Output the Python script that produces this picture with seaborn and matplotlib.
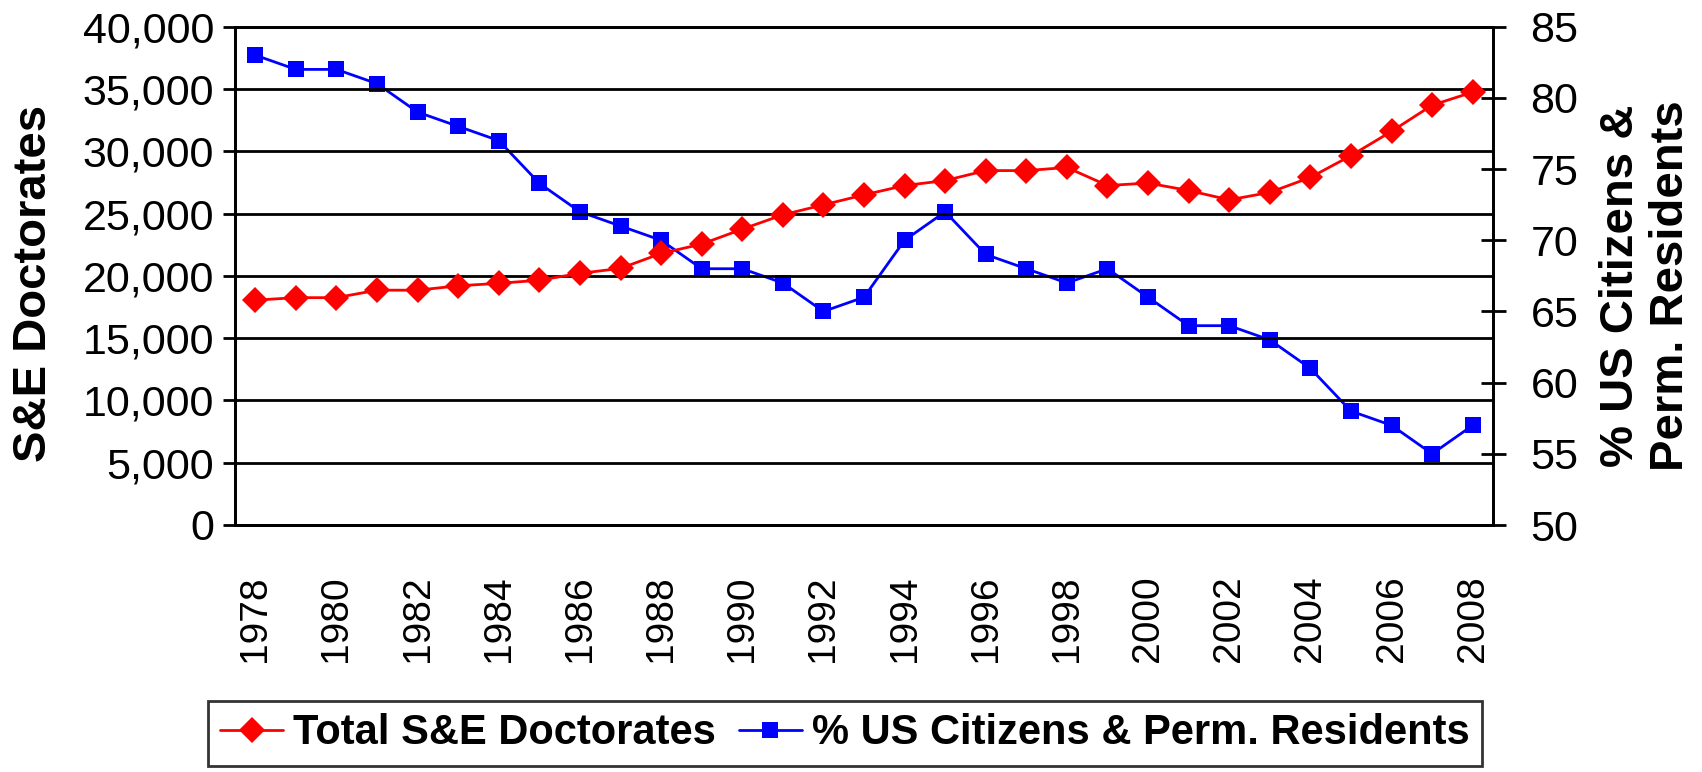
import numpy as np
import pandas as pd
import matplotlib
matplotlib.use("Agg")
import matplotlib.pyplot as plt
import seaborn as sns
from matplotlib.ticker import FixedLocator, FuncFormatter, NullFormatter

# data
years = list(range(1978, 2009))
total_doctorates = [18050, 18250, 18250, 18850, 18850, 19200, 19400, 19650, 20200, 20600,
                    21800, 22550, 23750, 24900, 25700, 26500, 27250, 27650, 28450, 28450,
                    28700, 27250, 27450, 26850, 26100, 26700, 27900, 29650, 31600, 33700,
                    34750]
pct_us = [83, 82, 82, 81, 79, 78, 77, 74, 72, 71,
          70, 68, 68, 67, 65, 66, 70, 72, 69, 68,
          67, 68, 66, 64, 64, 63, 61, 58, 57, 55,
          57]

left_ticks = [0, 5000, 10000, 15000, 20000, 25000, 30000, 35000, 40000]
right_ticks = [50, 55, 60, 65, 70, 75, 80, 85]
label_years = years[::2]

df = pd.DataFrame({"year": years, "total": total_doctorates, "pct": pct_us})

sns.set_style("white")
plt.rcParams["font.family"] = ["Liberation Sans", "DejaVu Sans"]
plt.rcParams.update({"text.color": "black", "axes.labelcolor": "black",
                     "xtick.color": "black", "ytick.color": "black"})

fig = plt.figure(figsize=(17.02, 7.72), dpi=100)
ax = fig.add_axes([235 / 1702, 1 - 525 / 772, 1258 / 1702, 498.3 / 772])
ax2 = ax.twinx()

sns.lineplot(data=df, x="year", y="total", ax=ax, color="#FF0000", marker="D",
             markersize=13, markeredgewidth=0, linewidth=2, label="Total S&E Doctorates")
sns.lineplot(data=df, x="year", y="pct", ax=ax2, color="#0000FF", marker="s",
             markersize=11.5, markeredgewidth=0, linewidth=2,
             label="% US Citizens & Perm. Residents")

# red series drawn over the blue one
ax.set_zorder(ax2.get_zorder() + 1)
ax.patch.set_visible(False)

ax.set_xlim(years[0] - 0.5, years[-1] + 0.5)
ax.set_ylim(0, 40000)
ax2.set_ylim(50, 85)

# gridlines at every left tick
ax.yaxis.set_major_locator(FixedLocator(left_ticks))
ax.yaxis.set_major_formatter(FuncFormatter(lambda v, p: f"{v:,.0f}"))
ax.grid(axis="y", color="black", linewidth=2)
ax.grid(axis="x", visible=False)

# x: tick marks between categories, labels at category centres
ax.xaxis.set_major_locator(FixedLocator([y - 0.5 for y in label_years]))
ax.xaxis.set_major_formatter(NullFormatter())
ax.xaxis.set_minor_locator(FixedLocator(label_years))
ax.xaxis.set_minor_formatter(FuncFormatter(lambda v, p: f"{int(round(v))}"))
ax.tick_params(axis="x", which="major", direction="out", length=9, width=2, color="black")
ax.tick_params(axis="x", which="minor", length=0, pad=36, labelsize=28, labelrotation=90)
for t in ax.get_xticklabels(minor=True):
    t.set_verticalalignment("top")

ax.tick_params(axis="y", direction="out", length=9, width=2, color="black",
               labelsize=31, pad=6, left=True)
ax2.yaxis.set_major_locator(FixedLocator(right_ticks))
ax2.tick_params(axis="y", direction="inout", length=18, width=2, color="black",
                labelsize=31, pad=18, right=True)

for a in (ax, ax2):
    for s in a.spines.values():
        s.set_color("black")
        s.set_linewidth(2)

ax.set_xlabel("")
ax.set_ylabel("S&E Doctorates", fontsize=34, fontweight="bold")
ax.yaxis.set_label_coords(-0.142, 0.485)
ax2.set_ylabel("% US Citizens &\nPerm. Residents", fontsize=34, fontweight="bold")
ax2.yaxis.set_label_coords(1.084, 0.48)

h1, l1 = ax.get_legend_handles_labels()
h2, l2 = ax2.get_legend_handles_labels()
ax.get_legend().remove()
ax2.get_legend().remove()
leg = fig.legend(h1 + h2, l1 + l2, loc="upper center", bbox_to_anchor=(845 / 1702, 1 - 701 / 772),
                 ncol=2, frameon=True, fancybox=False, prop={"weight": "bold", "size": 30},
                 handlelength=1.5, handletextpad=0.25, columnspacing=0.55, borderpad=0.3,
                 borderaxespad=0)
leg.get_frame().set_edgecolor("black")
leg.get_frame().set_linewidth(2)

fig.savefig("out.png", dpi=100)
